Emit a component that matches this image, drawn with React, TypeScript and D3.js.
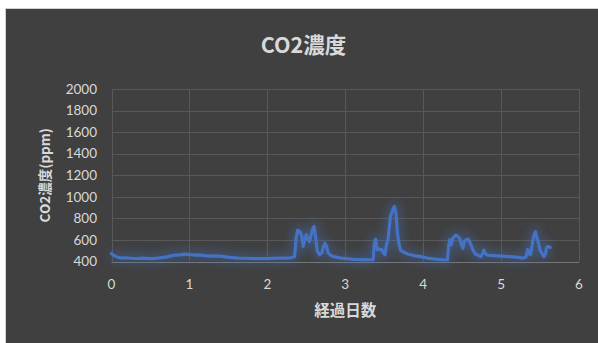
import React from "react";
import * as d3 from "d3";

const title = "CO2濃度";
const xTitle = "経過日数";
const yTitle = "CO2濃度(ppm)";
const xTicks = [0, 1, 2, 3, 4, 5, 6];
const yTicks = [400, 600, 800, 1000, 1200, 1400, 1600, 1800, 2000];

const days = [
  0.00, 0.02, 0.05, 0.08, 0.12, 0.18, 0.25, 0.32, 0.40, 0.48, 0.55, 0.62, 0.70, 0.76, 0.82, 0.88, 0.94, 1.00,
  1.06, 1.12, 1.20, 1.28, 1.35, 1.42, 1.48, 1.55, 1.62, 1.70, 1.80, 1.90, 2.00, 2.10, 2.20, 2.30, 2.35, 2.37,
  2.39, 2.42, 2.44, 2.46, 2.48, 2.50, 2.52, 2.54, 2.56, 2.58, 2.60, 2.62, 2.64, 2.67, 2.70, 2.72, 2.74, 2.76,
  2.78, 2.81, 2.85, 2.90, 2.95, 3.00, 3.10, 3.20, 3.30, 3.36, 3.37, 3.39, 3.41, 3.44, 3.47, 3.49, 3.51, 3.53,
  3.55, 3.58, 3.61, 3.63, 3.65, 3.67, 3.69, 3.71, 3.75, 3.80, 3.88, 3.97, 4.05, 4.15, 4.25, 4.31, 4.33, 4.34,
  4.36, 4.38, 4.42, 4.45, 4.47, 4.49, 4.51, 4.53, 4.55, 4.58, 4.61, 4.64, 4.67, 4.70, 4.74, 4.76, 4.78, 4.80,
  4.83, 4.90, 5.00, 5.10, 5.20, 5.28, 5.32, 5.34, 5.36, 5.38, 5.40, 5.42, 5.44, 5.46, 5.48, 5.50, 5.53, 5.55,
  5.57, 5.58, 5.60, 5.63,
];
const ppm = [
  475, 462, 450, 440, 432, 435, 430, 428, 432, 426, 428, 434, 440, 452, 460, 462, 468, 465,
  460, 462, 455, 450, 452, 448, 440, 436, 432, 430, 428, 427, 428, 430, 432, 434, 445, 620,
  690, 675, 640, 540, 600, 650, 610, 585, 640, 700, 725, 620, 500, 462, 480, 540, 570, 540,
  480, 458, 445, 438, 432, 428, 420, 418, 416, 418, 550, 605, 510, 515, 510, 480, 462, 560,
  610, 815, 880, 910, 850, 660, 560, 505, 485, 470, 455, 445, 432, 422, 416, 414, 560, 600,
  555, 615, 645, 630, 612, 560, 522, 590, 600, 608, 560, 505, 470, 460, 445, 470, 505, 470,
  458, 455, 450, 445, 440, 432, 440, 513, 470, 465, 560, 640, 675, 620, 570, 505, 470, 445,
  470, 522, 540, 530,
];

const W = 598;
const H = 343;
const plot = { left: 111.5, right: 579, top: 89, bottom: 261.5 };
const textColor = "#d9d9d9";
const lineColor = "#4472C4";
const jp = "'Noto Sans CJK JP', 'Noto Sans', sans-serif";
const num = "Lato, 'Open Sans', sans-serif";

export default function App() {
  const x = d3.scaleLinear().domain([0, 6]).range([plot.left, plot.right]);
  const y = d3.scaleLinear().domain([400, 2000]).range([plot.bottom, plot.top]);
  const pts: [number, number][] = days.map((d, i) => [d, ppm[i]]);
  const line = d3
    .line<[number, number]>()
    .x((d) => x(d[0]))
    .y((d) => y(d[1]))
    .curve(d3.curveLinear);
  const path = line(pts) || "";
  const cx = (plot.left + plot.right) / 2;
  const cy = (plot.top + plot.bottom) / 2;

  return (
    <svg
      width={W}
      height={H}
      style={{ position: "absolute", left: 0, top: 0, display: "block" }}
    >
      <defs>
        <filter id="glow" x="-10%" y="-50%" width="120%" height="200%">
          <feGaussianBlur stdDeviation="5" />
        </filter>
        <clipPath id="clip">
          <rect x={6} y={9} width={W - 6} height={H - 9} />
        </clipPath>
      </defs>
      <rect x={0} y={0} width={W} height={H} fill="#ffffff" />
      <rect x={5.5} y={8.5} width={W} height={H} fill="#404040" stroke="#d0d0d0" strokeWidth={1} />
      <g clipPath="url(#clip)">
        {yTicks.map((t) => (
          <line
            key={"gy" + t}
            x1={plot.left}
            x2={plot.right}
            y1={Math.round(y(t)) + 0.5}
            y2={Math.round(y(t)) + 0.5}
            stroke={t === 400 ? "#777777" : "#595959"}
            strokeWidth={1}
          />
        ))}
        {xTicks.map((t) => (
          <line
            key={"gx" + t}
            x1={Math.round(x(t)) + 0.5}
            x2={Math.round(x(t)) + 0.5}
            y1={plot.top}
            y2={plot.bottom}
            stroke="#595959"
            strokeWidth={1}
          />
        ))}
        <path
          d={path}
          fill="none"
          stroke={lineColor}
          strokeWidth={10}
          strokeOpacity={0.35}
          strokeLinejoin="round"
          filter="url(#glow)"
        />
        <path
          d={path}
          fill="none"
          stroke={lineColor}
          strokeWidth={3.2}
          strokeLinejoin="round"
          strokeLinecap="round"
        />
        {yTicks.map((t) => (
          <text
            key={"ty" + t}
            x={97}
            y={y(t)}
            dy="0.35em"
            textAnchor="end"
            fill={textColor}
            fontSize={13.5}
            fontFamily={num}
          >
            {t}
          </text>
        ))}
        {xTicks.map((t) => (
          <text
            key={"tx" + t}
            x={x(t)}
            y={284}
            dy="0.35em"
            textAnchor="middle"
            fill={textColor}
            fontSize={13.5}
            fontFamily={num}
          >
            {t}
          </text>
        ))}
        <text
          x={303.5}
          y={45}
          dy="0.35em"
          textAnchor="middle"
          fill={textColor}
          fontSize={21.5}
          fontWeight="bold"
          fontFamily={jp}
        >
          {title}
        </text>
        <text
          x={cx}
          y={311}
          dy="0.35em"
          textAnchor="middle"
          fill={textColor}
          fontSize={15.5}
          fontWeight="bold"
          fontFamily={jp}
        >
          {xTitle}
        </text>
        <text
          transform={`translate(45,${cy}) rotate(-90)`}
          dy="0.35em"
          textAnchor="middle"
          fill={textColor}
          fontSize={13.5}
          fontWeight="bold"
          fontFamily={jp}
        >
          {yTitle}
        </text>
      </g>
    </svg>
  );
}
